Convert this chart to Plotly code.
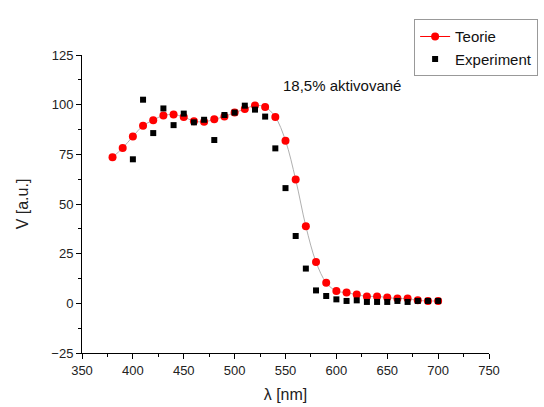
import plotly.graph_objects as go

theory_x = [380, 390, 400, 410, 420, 430, 440, 450, 460, 470, 480, 490, 500, 510, 520, 530,
            540, 550, 560, 570, 580, 590, 600, 610, 620, 630, 640, 650, 660, 670, 680, 690, 700]
theory_y = [73.5, 78.2, 84.0, 89.4, 92.2, 94.6, 95.0, 93.8, 91.7, 91.4, 92.6, 94.1, 96.0, 97.8,
            99.6, 98.8, 93.8, 81.9, 62.3, 38.8, 20.8, 10.4, 6.2, 5.4, 4.4, 3.5, 3.5, 2.9, 2.4,
            2.4, 1.5, 1.2, 1.2]

exp_x = [400, 410, 420, 430, 440, 450, 460, 470, 480, 490, 500, 510, 520, 530, 540, 550,
         560, 570, 580, 590, 600, 610, 620, 630, 640, 650, 660, 670, 680, 690, 700]
exp_y = [72.5, 102.5, 85.7, 98.1, 89.7, 95.5, 91.1, 92.4, 82.2, 94.8, 96.0, 99.5, 97.5, 94.0,
         78.0, 58.0, 33.9, 17.5, 6.5, 3.7, 2.0, 1.2, 1.5, 0.7, 0.7, 0.7, 1.2, 0.7, 1.2, 1.2, 1.2]

FONT = "Liberation Sans, Arial, sans-serif"

fig = go.Figure()
fig.add_trace(go.Scatter(x=theory_x, y=theory_y, mode="lines", line=dict(color="#b0b0b0", width=1, shape="spline"),
                         showlegend=False, hoverinfo="skip"))
fig.add_trace(go.Scatter(x=theory_x, y=theory_y, mode="markers", name="Teorie",
                         marker=dict(color="#ff0000", size=8, symbol="circle"), showlegend=False))
fig.add_trace(go.Scatter(x=exp_x, y=exp_y, mode="markers", name="Experiment",
                         marker=dict(color="#000000", size=6, symbol="square"), showlegend=False))
# legend entries
fig.add_trace(go.Scatter(x=[None], y=[None], mode="lines+markers", name="Teorie",
                         line=dict(color="#ff0000", width=1), marker=dict(color="#ff0000", size=8)))
fig.add_trace(go.Scatter(x=[None], y=[None], mode="markers", name="Experiment",
                         marker=dict(color="#000000", size=6, symbol="square")))

axis_common = dict(showline=True, linecolor="#000000", linewidth=1, ticks="outside", ticklen=5,
                   tickcolor="#000000", showgrid=False, zeroline=False, mirror=False, automargin=False,
                   tickfont=dict(family=FONT, size=13, color="#222222"))

fig.update_xaxes(range=[350, 750], dtick=50, tick0=350,
                 minor=dict(ticks="outside", ticklen=3, dtick=25, tickcolor="#000000"),
                 title=dict(text="λ [nm]", font=dict(family=FONT, size=16, color="#222222"), standoff=12),
                 **axis_common)
fig.update_yaxes(range=[-25, 125], dtick=25, tick0=-25,
                 minor=dict(ticks="outside", ticklen=3, dtick=12.5, tickcolor="#000000"),
                 title=dict(text="V [a.u.]", font=dict(family=FONT, size=16, color="#222222"), standoff=18),
                 **axis_common)

fig.add_annotation(x=0.638, y=0.898, xref="paper", yref="paper", xanchor="center", yanchor="middle",
                   text="18,5% aktivované", showarrow=False,
                   font=dict(family=FONT, size=15, color="#111111"))

fig.update_layout(width=544, height=407,
                  margin=dict(l=82, r=55, t=55, b=54, autoexpand=False),
                  plot_bgcolor="white", paper_bgcolor="white",
                  font=dict(family=FONT),
                  legend=dict(x=0.816, y=1.12, xanchor="left", yanchor="top",
                              bordercolor="#999999", borderwidth=1, bgcolor="white",
                              font=dict(family=FONT, size=15, color="#111111"),
                              tracegroupgap=0, itemwidth=30))

fig.write_html("out.html")
